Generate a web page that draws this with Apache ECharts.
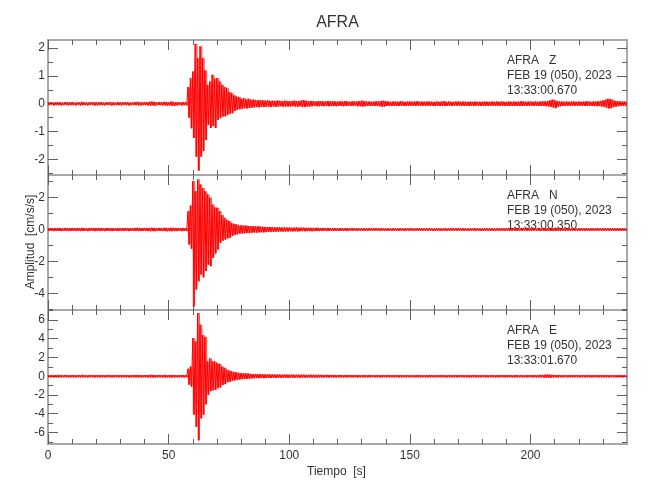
<!DOCTYPE html>
<html>
<head>
<meta charset="utf-8">
<script src="https://cdn.jsdelivr.net/npm/echarts@6/dist/echarts.min.js"></script>
<style>
html,body{margin:0;padding:0;background:#fff;}
#chart{width:650px;height:500px;}
</style>
</head>
<body>
<div id="chart"></div>
<script>
// ---------------- DATA ----------------
// Each bin is 1 second long (bin i covers t = i .. i+1 s).
// For every bin the trace swings up to hi[i] and down to lo[i].
const binSeconds = 1;

const zHi = [
.05,.06,.04,.05,.06,.05,.04,.06,.05,.05,
.06,.04,.05,.05,.07,.05,.04,.05,.06,.05,
.05,.06,.05,.04,.05,.06,.05,.05,.04,.06,
.05,.05,.06,.05,.04,.05,.06,.07,.05,.05,
.06,.05,.07,.08,.06,.05,.06,.05,.07,.06,
.05,.08,.06,.05,.06,.05,.06,.05,.60,.92,
1.16,2.15,1.64,2.06,1.64,1.20,.68,.80,1.04,.90,
.92,.80,.68,.60,.56,.42,.38,.30,.26,.24,
.18,.20,.16,.18,.14,.15,.12,.13,.12,.12,
.11,.12,.10,.11,.10,.12,.10,.09,.11,.10,
.09,.10,.11,.09,.10,.12,.13,.10,.09,.10,
.09,.08,.10,.09,.08,.09,.10,.08,.09,.08,
.08,.09,.08,.10,.08,.07,.09,.08,.08,.10,
.11,.09,.08,.08,.07,.08,.09,.08,.10,.11,
.09,.08,.07,.08,.08,.07,.09,.08,.07,.08,
.08,.07,.08,.09,.07,.08,.07,.08,.08,.07,
.07,.08,.07,.08,.09,.07,.08,.07,.07,.08,
.08,.07,.08,.07,.07,.08,.07,.08,.07,.07,
.07,.08,.07,.07,.08,.07,.08,.07,.08,.07,
.07,.08,.07,.08,.07,.08,.09,.08,.07,.08,
.08,.07,.08,.07,.08,.09,.08,.10,.12,.15,
.12,.09,.08,.08,.07,.08,.07,.08,.08,.07,
.08,.07,.08,.09,.08,.07,.08,.08,.09,.10,
.12,.15,.18,.17,.13,.10,.09,.08,.08,.08
];
const zLo = [
-.05,-.04,-.06,-.05,-.05,-.06,-.05,-.04,-.06,-.05,
-.05,-.06,-.04,-.06,-.05,-.05,-.06,-.04,-.05,-.06,
-.06,-.05,-.05,-.06,-.04,-.05,-.06,-.05,-.05,-.05,
-.06,-.04,-.05,-.06,-.05,-.05,-.05,-.06,-.06,-.05,
-.05,-.06,-.07,-.06,-.08,-.05,-.05,-.06,-.06,-.07,
-.06,-.07,-.08,-.06,-.05,-.06,-.05,-.06,-.50,-.88,
-1.23,-1.90,-2.40,-1.90,-1.70,-1.30,-.75,-.87,-.80,-.87,
-.58,-.52,-.46,-.45,-.40,-.36,-.34,-.26,-.22,-.20,
-.18,-.16,-.17,-.15,-.14,-.13,-.12,-.13,-.11,-.12,
-.11,-.10,-.12,-.10,-.11,-.10,-.09,-.11,-.10,-.10,
-.10,-.09,-.10,-.11,-.09,-.12,-.12,-.10,-.10,-.09,
-.08,-.09,-.09,-.08,-.09,-.08,-.09,-.08,-.08,-.09,
-.08,-.08,-.09,-.08,-.07,-.08,-.08,-.07,-.09,-.09,
-.10,-.09,-.08,-.07,-.08,-.08,-.08,-.09,-.11,-.10,
-.08,-.08,-.08,-.07,-.08,-.08,-.07,-.08,-.08,-.07,
-.07,-.08,-.08,-.07,-.08,-.07,-.08,-.07,-.08,-.08,
-.08,-.07,-.08,-.07,-.08,-.08,-.07,-.08,-.07,-.07,
-.07,-.08,-.07,-.08,-.08,-.07,-.08,-.07,-.07,-.08,
-.08,-.07,-.08,-.07,-.07,-.08,-.07,-.08,-.07,-.08,
-.08,-.07,-.08,-.07,-.08,-.08,-.08,-.07,-.08,-.07,
-.07,-.08,-.07,-.08,-.08,-.08,-.09,-.10,-.11,-.14,
-.16,-.10,-.09,-.08,-.08,-.07,-.08,-.07,-.07,-.08,
-.07,-.08,-.08,-.08,-.07,-.08,-.08,-.09,-.08,-.10,
-.11,-.14,-.17,-.16,-.12,-.10,-.09,-.08,-.07,-.08
];

const nHi = [
.09,.10,.08,.09,.10,.09,.08,.10,.09,.09,
.10,.08,.09,.09,.11,.09,.08,.09,.10,.09,
.09,.10,.09,.08,.09,.10,.09,.09,.08,.10,
.09,.09,.10,.09,.08,.09,.10,.11,.09,.09,
.10,.09,.10,.11,.10,.09,.10,.09,.11,.10,
.09,.11,.10,.09,.10,.09,.10,.09,1.15,1.50,
3.04,2.41,3.14,2.83,2.60,2.40,2.20,2.00,1.57,1.40,
1.36,1.15,.90,.73,.60,.52,.40,.35,.32,.25,
.26,.24,.25,.22,.20,.21,.19,.20,.18,.17,
.16,.15,.16,.14,.13,.14,.13,.12,.13,.12,
.12,.11,.12,.13,.11,.12,.11,.10,.11,.10,
.10,.11,.10,.09,.10,.09,.10,.09,.08,.09,
.08,.09,.08,.09,.08,.08,.09,.08,.07,.08,
.08,.07,.08,.08,.07,.08,.08,.07,.08,.07,
.07,.08,.07,.08,.07,.07,.08,.07,.07,.08,
.08,.07,.07,.08,.07,.08,.07,.07,.08,.07,
.07,.08,.07,.07,.08,.07,.07,.08,.07,.08,
.08,.07,.08,.07,.07,.08,.07,.08,.07,.07,
.07,.08,.07,.08,.07,.07,.08,.07,.08,.07,
.08,.07,.07,.08,.07,.08,.07,.08,.07,.08,
.07,.08,.08,.07,.08,.09,.08,.09,.10,.09,
.08,.08,.07,.08,.07,.08,.07,.08,.08,.07,
.08,.07,.08,.08,.07,.08,.07,.08,.08,.07,
.08,.07,.08,.07,.08,.07,.08,.07,.08,.07
];
const nLo = [
-.09,-.08,-.10,-.09,-.09,-.10,-.09,-.08,-.10,-.09,
-.09,-.10,-.08,-.10,-.09,-.09,-.10,-.08,-.09,-.10,
-.10,-.09,-.09,-.10,-.08,-.09,-.10,-.09,-.09,-.09,
-.10,-.08,-.09,-.10,-.09,-.09,-.09,-.10,-.10,-.09,
-.09,-.10,-.11,-.10,-.11,-.09,-.09,-.10,-.10,-.11,
-.10,-.11,-.10,-.10,-.09,-.10,-.09,-.10,-.94,-1.20,
-4.82,-3.77,-3.25,-2.83,-3.00,-2.60,-2.20,-2.30,-1.78,-1.50,
-1.26,-.84,-.70,-.63,-.55,-.52,-.40,-.35,-.30,-.26,
-.25,-.24,-.22,-.23,-.20,-.19,-.20,-.18,-.17,-.18,
-.16,-.15,-.14,-.15,-.13,-.13,-.12,-.13,-.12,-.12,
-.11,-.12,-.11,-.12,-.11,-.10,-.11,-.10,-.10,-.11,
-.10,-.09,-.10,-.09,-.09,-.10,-.09,-.08,-.09,-.08,
-.09,-.08,-.08,-.08,-.09,-.07,-.08,-.08,-.08,-.07,
-.07,-.08,-.08,-.07,-.08,-.07,-.07,-.08,-.07,-.08,
-.08,-.07,-.08,-.07,-.07,-.08,-.07,-.08,-.08,-.07,
-.07,-.08,-.07,-.07,-.08,-.07,-.08,-.07,-.07,-.08,
-.08,-.07,-.08,-.08,-.07,-.08,-.07,-.07,-.08,-.07,
-.07,-.08,-.07,-.08,-.08,-.07,-.08,-.07,-.08,-.08,
-.08,-.07,-.08,-.07,-.08,-.08,-.07,-.08,-.07,-.08,
-.07,-.08,-.08,-.07,-.08,-.07,-.08,-.07,-.08,-.07,
-.08,-.07,-.07,-.08,-.08,-.08,-.09,-.08,-.09,-.10,
-.09,-.08,-.08,-.07,-.08,-.07,-.08,-.08,-.07,-.08,
-.07,-.08,-.08,-.07,-.08,-.07,-.08,-.07,-.07,-.08,
-.07,-.08,-.07,-.08,-.07,-.08,-.07,-.08,-.07,-.08
];

const eHi = [
.12,.13,.11,.12,.14,.12,.11,.13,.12,.12,
.13,.11,.12,.12,.14,.12,.11,.12,.13,.12,
.12,.13,.12,.11,.12,.13,.12,.12,.11,.13,
.12,.12,.13,.12,.11,.12,.13,.14,.12,.12,
.13,.12,.14,.15,.13,.12,.13,.12,.14,.13,
.12,.14,.13,.12,.13,.12,.13,.12,.80,1.03,
4.06,3.70,6.75,5.50,4.40,4.20,1.57,1.90,1.60,1.57,
1.40,1.30,1.03,.90,.68,.60,.50,.45,.40,.35,
.32,.30,.31,.28,.24,.22,.23,.21,.22,.20,
.19,.20,.18,.19,.17,.18,.17,.16,.18,.17,
.16,.17,.15,.16,.15,.17,.15,.14,.15,.16,
.15,.14,.15,.14,.13,.15,.14,.13,.14,.13,
.13,.14,.13,.12,.14,.13,.12,.13,.12,.13,
.12,.13,.12,.13,.12,.11,.13,.12,.12,.13,
.12,.13,.12,.11,.12,.13,.12,.12,.11,.12,
.12,.11,.12,.13,.12,.12,.11,.12,.13,.12,
.11,.12,.12,.13,.12,.11,.12,.12,.11,.12,
.12,.13,.12,.11,.12,.12,.13,.12,.11,.12,
.12,.11,.12,.13,.12,.12,.11,.12,.12,.13,
.12,.12,.11,.12,.13,.12,.12,.11,.12,.12,
.12,.13,.12,.12,.14,.15,.16,.18,.16,.14,
.13,.12,.13,.12,.12,.11,.12,.13,.12,.12,
.11,.12,.12,.13,.12,.11,.12,.12,.13,.12,
.12,.13,.12,.12,.11,.12,.13,.12,.12,.11
];
const eLo = [
-.12,-.11,-.13,-.12,-.12,-.13,-.12,-.11,-.13,-.12,
-.12,-.13,-.11,-.13,-.12,-.12,-.13,-.11,-.12,-.13,
-.13,-.12,-.12,-.13,-.11,-.12,-.13,-.12,-.12,-.12,
-.13,-.11,-.12,-.13,-.12,-.12,-.12,-.13,-.13,-.12,
-.12,-.13,-.14,-.13,-.15,-.12,-.12,-.13,-.13,-.14,
-.13,-.14,-.13,-.12,-.13,-.12,-.13,-.12,-.90,-1.10,
-4.10,-5.40,-6.85,-4.50,-4.10,-3.00,-2.00,-1.60,-1.50,-1.46,
-1.28,-1.20,-.93,-.85,-.64,-.60,-.48,-.45,-.40,-.35,
-.31,-.30,-.28,-.29,-.23,-.22,-.21,-.22,-.20,-.21,
-.19,-.18,-.19,-.17,-.18,-.17,-.16,-.17,-.16,-.17,
-.16,-.15,-.16,-.15,-.16,-.15,-.14,-.15,-.14,-.15,
-.14,-.15,-.14,-.13,-.14,-.13,-.14,-.13,-.13,-.14,
-.13,-.12,-.13,-.12,-.13,-.12,-.13,-.12,-.13,-.12,
-.12,-.12,-.13,-.12,-.11,-.12,-.12,-.13,-.12,-.11,
-.12,-.12,-.11,-.12,-.12,-.13,-.12,-.11,-.12,-.12,
-.11,-.12,-.12,-.12,-.13,-.11,-.12,-.12,-.12,-.11,
-.12,-.12,-.11,-.12,-.12,-.13,-.12,-.11,-.12,-.12,
-.12,-.11,-.12,-.12,-.13,-.12,-.11,-.12,-.12,-.12,
-.11,-.12,-.12,-.12,-.11,-.13,-.12,-.12,-.11,-.12,
-.12,-.11,-.12,-.13,-.12,-.11,-.12,-.12,-.12,-.11,
-.12,-.12,-.13,-.12,-.13,-.15,-.16,-.17,-.15,-.13,
-.12,-.13,-.12,-.12,-.11,-.12,-.12,-.12,-.11,-.12,
-.12,-.11,-.12,-.12,-.13,-.12,-.11,-.12,-.12,-.13,
-.12,-.12,-.13,-.11,-.12,-.12,-.11,-.12,-.13,-.12
];

// axis ranges and tick values
const timeRange = [0, 240];
const xMajorTicks = [0, 50, 100, 150, 200];
const xMinorTicks = [10, 20, 30, 40, 60, 70, 80, 90, 110, 120, 130, 140, 160, 170, 180, 190, 210, 220, 230];

const zRange = [-2.56, 2.29];
const zMajor = [-2, -1, 0, 1, 2];
const zMinor = [-2.5, -1.5, -0.5, 0.5, 1.5];

const nRange = [-5.05, 3.42];
const nMajor = [-4, -2, 0, 2];
const nMinor = [-5, -3, -1, 1, 3];

const eRange = [-7.24, 7.07];
const eMajor = [-6, -4, -2, 0, 2, 4, 6];
const eMinor = [-7, -5, -3, -1, 1, 3, 5, 7];

const stationName = 'AFRA';
const components = ['Z', 'N', 'E'];
const dateLabel = 'FEB 19 (050), 2023';
const startTimes = ['13:33:00.670', '13:33:00.350', '13:33:01.670'];
const yAxisTitle = 'Amplitud  [cm/s/s]';
const xAxisTitle = 'Tiempo  [s]';

// ---------------- CHART ----------------
const FONT = "'Liberation Sans', Arial, sans-serif";
const FS = 12;
const TXT = '#333333';
const TICK = '#606060';

function trace(hi, lo) {
  const pts = [];
  for (let i = 0; i < hi.length; i++) {
    pts.push([i * binSeconds, hi[i]]);
    pts.push([(i + 0.5) * binSeconds, lo[i]]);
  }
  return pts;
}
function envelope(hi, lo) {
  return hi.map((h, i) => [i * binSeconds, lo[i], h]);
}

const panels = [
  { range: zRange, major: zMajor, minor: zMinor, hi: zHi, lo: zLo },
  { range: nRange, major: nMajor, minor: nMinor, hi: nHi, lo: nLo },
  { range: eRange, major: eMajor, minor: eMinor, hi: eHi, lo: eLo }
];

const gridTops = [40, 175, 310];
const gridHeights = [135, 135, 134];
const gridLeft = 48, gridWidth = 579;

const grid = [], xAxis = [], yAxis = [], series = [];

function xAx(g, pos, ticks, len, labels) {
  return {
    type: 'value', gridIndex: g, min: timeRange[0], max: timeRange[1], position: pos,
    axisLine: { show: false, onZero: false },
    splitLine: { show: false },
    axisTick: { show: true, inside: true, length: len, customValues: ticks, lineStyle: { color: TICK, width: 1 } },
    axisLabel: labels ? { show: true, customValues: ticks, margin: 6, fontSize: FS, fontFamily: FONT, color: TXT } : { show: false }
  };
}
function yAx(g, p, pos, ticks, len, labels) {
  return {
    type: 'value', gridIndex: g, min: p.range[0], max: p.range[1], position: pos,
    axisLine: { show: false, onZero: false },
    splitLine: { show: false },
    axisTick: { show: true, inside: true, length: len, customValues: ticks, lineStyle: { color: TICK, width: 1 } },
    axisLabel: labels ? { show: true, customValues: ticks, margin: 3, fontSize: FS, fontFamily: FONT, color: TXT } : { show: false }
  };
}

panels.forEach((p, g) => {
  grid.push({
    left: gridLeft, width: gridWidth, top: gridTops[g], height: gridHeights[g],
    show: true, borderColor: '#a8a8a8', borderWidth: 2, backgroundColor: 'transparent',
    containLabel: false, outerBoundsMode: 'none'
  });
  const last = g === panels.length - 1;
  xAxis.push(xAx(g, 'bottom', xMajorTicks, 10, last));
  xAxis.push(xAx(g, 'bottom', xMinorTicks, 5, false));
  xAxis.push(xAx(g, 'top', xMajorTicks, 10, false));
  xAxis.push(xAx(g, 'top', xMinorTicks, 5, false));
  yAxis.push(yAx(g, p, 'left', p.major, 10, true));
  yAxis.push(yAx(g, p, 'left', p.minor, 5, false));
  yAxis.push(yAx(g, p, 'right', p.major, 10, false));
  yAxis.push(yAx(g, p, 'right', p.minor, 5, false));
  // light fill of the per-second swing range (the dense, many-sample look)
  series.push({
    type: 'custom', xAxisIndex: 4 * g, yAxisIndex: 4 * g, silent: true, z: 4,
    data: envelope(p.hi, p.lo),
    encode: { x: 0, y: [1, 2] },
    renderItem: function (params, api) {
      const t = api.value(0), lo = api.value(1), hi = api.value(2);
      const a = api.coord([t, hi]);
      const b = api.coord([t + binSeconds, lo]);
      return { type: 'rect', shape: { x: a[0], y: a[1], width: b[0] - a[0], height: b[1] - a[1] },
        style: { fill: 'rgba(255,0,0,0.62)' } };
    }
  });
  series.push({
    type: 'line', xAxisIndex: 4 * g, yAxisIndex: 4 * g,
    data: trace(p.hi, p.lo),
    showSymbol: false, symbol: 'none', silent: true,
    lineStyle: { color: '#ff0000', width: 1 },
    clip: false, z: 5
  });
});

const graphic = [];
graphic.push({ type: 'text', x: gridLeft + gridWidth / 2, y: 23,
  style: { text: stationName, fill: TXT, fontSize: 16, fontFamily: FONT, align: 'center', verticalAlign: 'middle' } });
components.forEach((c, g) => {
  const y0 = gridTops[g] + 21;
  const lines = [stationName + '   ' + c, dateLabel, startTimes[g]];
  lines.forEach((t, k) => {
    graphic.push({ type: 'text', x: 507, y: y0 + k * 14.7,
      style: { text: t, fill: TXT, fontSize: FS, fontFamily: FONT, align: 'left', verticalAlign: 'middle' } });
  });
});
graphic.push({ type: 'text', x: 31, y: 242, rotation: Math.PI / 2,
  style: { text: yAxisTitle, fill: TXT, fontSize: FS, fontFamily: FONT, align: 'center', verticalAlign: 'middle' } });
graphic.push({ type: 'text', x: gridLeft + gridWidth / 2 - 1, y: 472,
  style: { text: xAxisTitle, fill: TXT, fontSize: FS, fontFamily: FONT, align: 'center', verticalAlign: 'middle' } });

const chart = echarts.init(document.getElementById('chart'), null, { renderer: 'canvas' });
chart.setOption({
  animation: false,
  backgroundColor: '#ffffff',
  grid, xAxis, yAxis, series, graphic
});
</script>
</body>
</html>
